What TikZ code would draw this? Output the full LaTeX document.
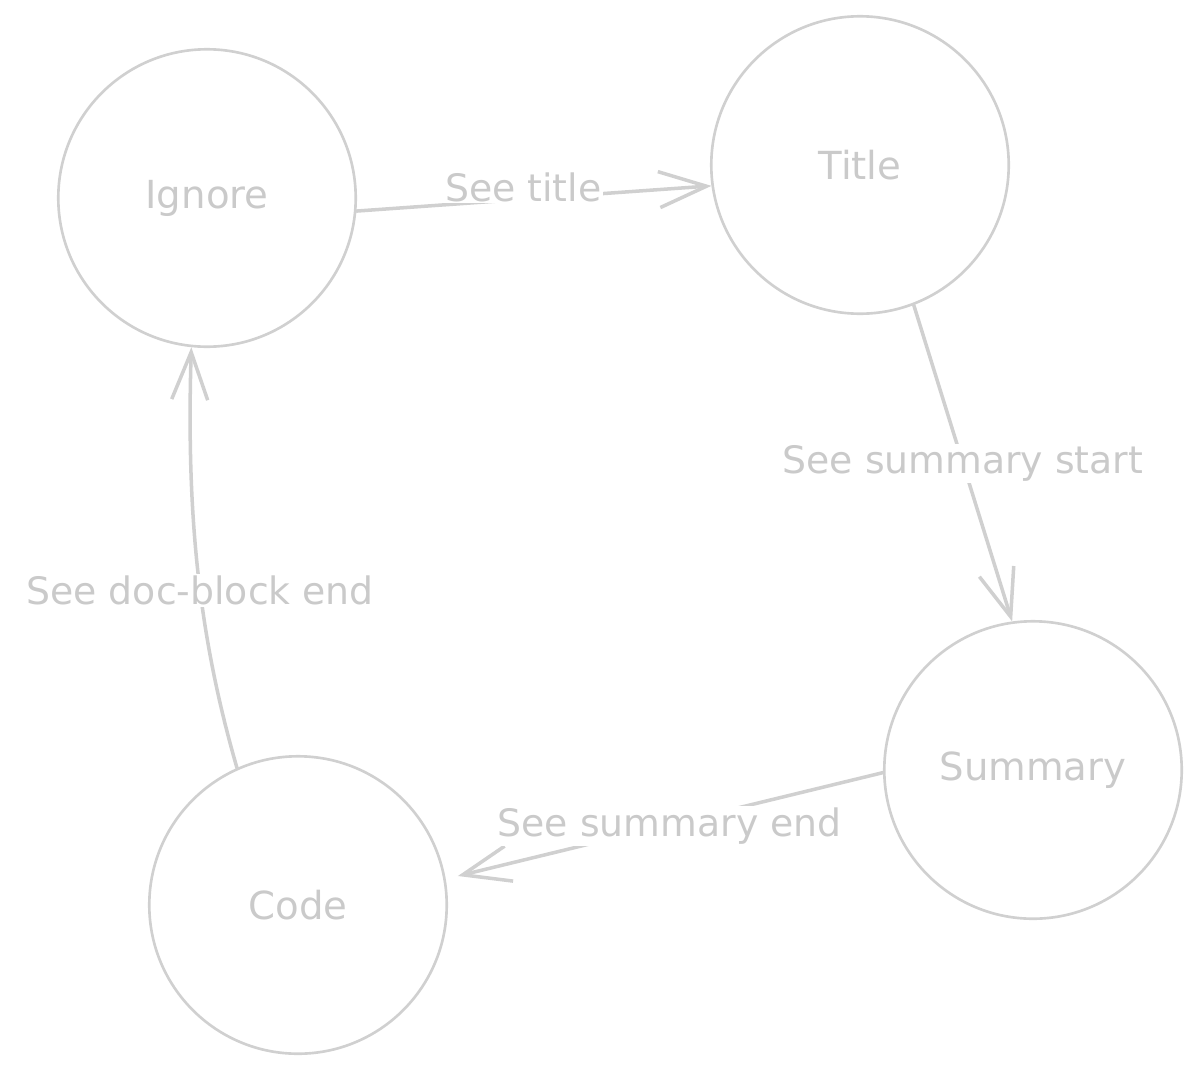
\documentclass[tikz,border=0pt]{standalone}
\usepackage{fontspec}
\setmainfont{DejaVu Sans}
\usetikzlibrary{arrows.meta}
\definecolor{inkgray}{RGB}{208,208,208}
\definecolor{textgray}{RGB}{202,202,202}
\begin{document}
\begin{tikzpicture}[x=0.02cm,y=-0.02cm,
        state/.style={draw=inkgray,line width=1.5pt,circle,minimum size=5.95cm,inner sep=0pt,
            text=textgray,font=\fontsize{22}{26}\selectfont},
        trans/.style={draw=inkgray,line width=2pt,line cap=round,
            -{Straight Barb[length=0.95cm,width=0.72cm,line width=2pt]}},
        lbl/.style={fill=white,text=textgray,inner sep=1pt,font=\fontsize{21.5}{26}\selectfont}]
    \useasboundingbox (0,0) rectangle (1200,1075);
    \node [state] (ignore)  at (207,198) {Ignore};
    \node [state] (title)   at (860,165) {Title};
    \node [state] (summary) at (1033,770) {Summary};
    \node [state] (code)    at (298,905) {Code};
    \draw [trans] (ignore.-5) -- node [lbl,pos=.47,yshift=7pt] {See title} (title.188);
    \draw [trans] (title.-69) -- node [lbl] {See summary start} (summary.98);
    \draw [trans,shorten >=0.25cm] (summary.181) -- node [lbl,xshift=3pt] {See summary end} (code.10);
    \draw [trans] (code.114) .. controls (200,640) and (186,520) .. node [lbl,pos=.46] {See doc-block end} (ignore.-96);
\end{tikzpicture}
\end{document}
